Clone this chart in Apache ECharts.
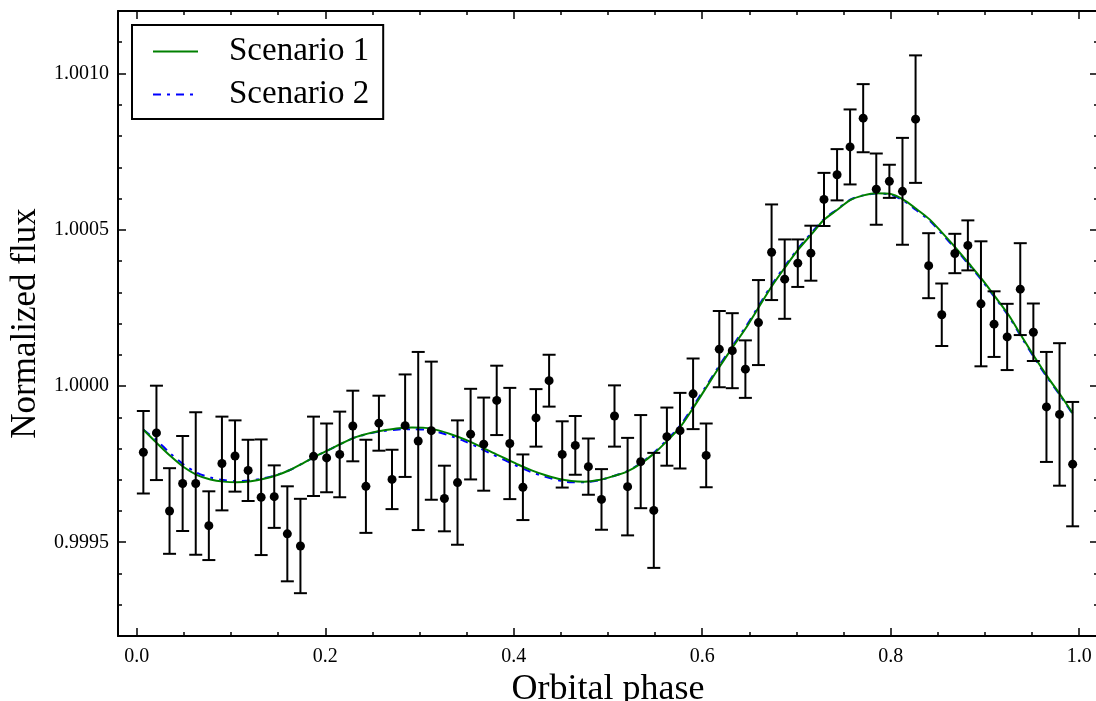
<!DOCTYPE html>
<html>
<head>
<meta charset="utf-8">
<title>Normalized flux vs orbital phase</title>
<script src="https://cdn.jsdelivr.net/npm/echarts@6/dist/echarts.min.js"></script>
<style>
  html, body { margin: 0; padding: 0; background: #fff; }
  #chart { width: 1096px; height: 701px; }
</style>
</head>
<body>
<div id="chart"></div>
<script>
// binned observations
var phase = [0.0069, 0.0208, 0.0347, 0.0486, 0.0625, 0.0764, 0.0903, 0.1042, 0.1181, 0.1319,
  0.1458, 0.1597, 0.1736, 0.1875, 0.2014, 0.2153, 0.2292, 0.2431, 0.2569, 0.2708,
  0.2847, 0.2986, 0.3125, 0.3264, 0.3403, 0.3542, 0.3681, 0.3819, 0.3958, 0.4097,
  0.4236, 0.4375, 0.4514, 0.4653, 0.4792, 0.4931, 0.5069, 0.5208, 0.5347, 0.5486,
  0.5625, 0.5764, 0.5903, 0.6042, 0.6181, 0.6319, 0.6458, 0.6597, 0.6736, 0.6875,
  0.7014, 0.7153, 0.7292, 0.7431, 0.7569, 0.7708, 0.7847, 0.7986, 0.8125, 0.8264,
  0.8403, 0.8542, 0.8681, 0.8819, 0.8958, 0.9097, 0.9236, 0.9375, 0.9514, 0.9653,
  0.9792, 0.9931];
var flux = [0.999788, 0.999850, 0.999600, 0.999688, 0.999688, 0.999553, 0.999752, 0.999776, 0.999730, 0.999644,
  0.999646, 0.999527, 0.999488, 0.999775, 0.999770, 0.999781, 0.999872, 0.999679, 0.999881, 0.999701,
  0.999873, 0.999824, 0.999857, 0.999640, 0.999691, 0.999846, 0.999814, 0.999954, 0.999816, 0.999676,
  0.999898, 1.000017, 0.999781, 0.999810, 0.999742, 0.999637, 0.999904, 0.999678, 0.999758, 0.999602,
  0.999838, 0.999857, 0.999975, 0.999778, 1.000118, 1.000113, 1.000054, 1.000203, 1.000428, 1.000342,
  1.000393, 1.000425, 1.000597, 1.000676, 1.000765, 1.000857, 1.000630, 1.000655, 1.000623, 1.000854,
  1.000385, 1.000228, 1.000424, 1.000450, 1.000263, 1.000198, 1.000157, 1.000310, 1.000172, 0.999933,
  0.999909, 0.999750];
var fluxErr = [0.000132, 0.000151, 0.000137, 0.000152, 0.000228, 0.000110, 0.000150, 0.000114, 0.000098, 0.000185,
  0.000100, 0.000152, 0.000151, 0.000127, 0.000110, 0.000137, 0.000113, 0.000149, 0.000088, 0.000095,
  0.000164, 0.000285, 0.000221, 0.000105, 0.000199, 0.000145, 0.000149, 0.000111, 0.000178, 0.000105,
  0.000092, 0.000083, 0.000106, 0.000094, 0.000090, 0.000097, 0.000098, 0.000156, 0.000149, 0.000184,
  0.000093, 0.000121, 0.000113, 0.000102, 0.000122, 0.000120, 0.000092, 0.000136, 0.000153, 0.000127,
  0.000076, 0.000088, 0.000085, 0.000082, 0.000120, 0.000109, 0.000114, 0.000053, 0.000171, 0.000204,
  0.000104, 0.000100, 0.000063, 0.000080, 0.000200, 0.000105, 0.000106, 0.000147, 0.000092, 0.000176,
  0.000228, 0.000199];

// model curves
var modelPhase = [0.007, 0.021, 0.036, 0.050, 0.064, 0.078, 0.092, 0.106, 0.121, 0.135,
  0.149, 0.163, 0.177, 0.191, 0.206, 0.220, 0.234, 0.250, 0.264, 0.278,
  0.292, 0.306, 0.320, 0.334, 0.348, 0.362, 0.376, 0.391, 0.405, 0.419,
  0.433, 0.447, 0.461, 0.475, 0.490, 0.504, 0.520, 0.534, 0.548, 0.562,
  0.577, 0.590, 0.604, 0.618, 0.632, 0.646, 0.660, 0.674, 0.688, 0.702,
  0.716, 0.729, 0.743, 0.757, 0.771, 0.785, 0.799, 0.813, 0.827, 0.841,
  0.855, 0.869, 0.883, 0.897, 0.911, 0.925, 0.939, 0.953, 0.967, 0.980,
  0.993];
var scenario1 = [0.999860, 0.999818, 0.999775, 0.999740, 0.999715, 0.999701, 0.999694, 0.999692, 0.999695, 0.999703,
  0.999715, 0.999732, 0.999754, 0.999777, 0.999799, 0.999820, 0.999838, 0.999851, 0.999859, 0.999865,
  0.999867, 0.999866, 0.999858, 0.999845, 0.999829, 0.999810, 0.999789, 0.999768, 0.999748, 0.999730,
  0.999715, 0.999703, 0.999696, 0.999694, 0.999699, 0.999710, 0.999726, 0.999750, 0.999782, 0.999822,
  0.999870, 0.999928, 0.999994, 1.000060, 1.000123, 1.000184, 1.000252, 1.000320, 1.000380, 1.000437,
  1.000486, 1.000531, 1.000563, 1.000595, 1.000610, 1.000617, 1.000615, 1.000597, 1.000567, 1.000534,
  1.000489, 1.000442, 1.000392, 1.000341, 1.000285, 1.000228, 1.000159, 1.000091, 1.000027, 0.999972,
  0.999913];
var scenario2 = [0.999860, 0.999826, 0.999783, 0.999748, 0.999722, 0.999707, 0.999699, 0.999696, 0.999698, 0.999705,
  0.999716, 0.999732, 0.999754, 0.999777, 0.999799, 0.999820, 0.999838, 0.999850, 0.999857, 0.999861,
  0.999862, 0.999860, 0.999852, 0.999839, 0.999823, 0.999804, 0.999783, 0.999762, 0.999742, 0.999724,
  0.999710, 0.999698, 0.999692, 0.999692, 0.999698, 0.999710, 0.999727, 0.999752, 0.999785, 0.999826,
  0.999875, 0.999934, 0.999999, 1.000065, 1.000128, 1.000189, 1.000257, 1.000325, 1.000385, 1.000441,
  1.000490, 1.000534, 1.000565, 1.000596, 1.000610, 1.000616, 1.000613, 1.000594, 1.000563, 1.000530,
  1.000485, 1.000438, 1.000388, 1.000337, 1.000281, 1.000224, 1.000155, 1.000087, 1.000023, 0.999969,
  0.999911];

// ticks
var xMajor = [0.0, 0.2, 0.4, 0.6, 0.8, 1.0];
var xMinor = [0.05, 0.1, 0.15, 0.25, 0.3, 0.35, 0.45, 0.5, 0.55, 0.65, 0.7, 0.75, 0.85, 0.9, 0.95];
var yMajor = [0.9995, 1.0000, 1.0005, 1.0010];
var yMinor = [0.9993, 0.9994, 0.9996, 0.9997, 0.9998, 0.9999, 1.0001, 1.0002, 1.0003, 1.0004,
  1.0006, 1.0007, 1.0008, 1.0009, 1.0011];

var FONT = "'Liberation Serif', 'DejaVu Serif', serif";
var X_MIN = -0.02, X_MAX = 1.02, Y_MIN = 0.9992, Y_MAX = 1.0012;

var chart = echarts.init(document.getElementById("chart"), null, { renderer: "canvas" });

function makeAxis(dim, position, ticks, len, labels) {
  var ax = {
    type: "value",
    position: position,
    min: dim === "x" ? X_MIN : Y_MIN,
    max: dim === "x" ? X_MAX : Y_MAX,
    splitLine: { show: false },
    axisLine: { show: len > 5, onZero: false, lineStyle: { color: "#000", width: 2 } },
    axisTick: { show: true, inside: true, length: len, customValues: ticks,
      lineStyle: { color: "#000", width: 1.5 } },
    axisLabel: { show: false }
  };
  if (labels) {
    ax.axisLabel = {
      show: true, customValues: ticks, color: "#000", fontFamily: FONT, fontSize: 20,
      margin: dim === "x" ? 11 : 9,
      formatter: function (v) { return dim === "x" ? v.toFixed(1) : v.toFixed(4); }
    };
  }
  return ax;
}

var xAxes = [
  makeAxis("x", "bottom", xMajor, 8, true),
  makeAxis("x", "bottom", xMinor, 4, false),
  makeAxis("x", "top", xMajor, 8, false),
  makeAxis("x", "top", xMinor, 4, false)
];
xAxes[0].name = "Orbital phase";
xAxes[0].nameLocation = "middle";
xAxes[0].nameGap = 36;
xAxes[0].nameTextStyle = { color: "#000", fontFamily: FONT, fontSize: 36 };

var yAxes = [
  makeAxis("y", "left", yMajor, 8, true),
  makeAxis("y", "left", yMinor, 4, false),
  makeAxis("y", "right", yMajor, 8, false),
  makeAxis("y", "right", yMinor, 4, false)
];
yAxes[0].name = "Normalized flux";
yAxes[0].nameLocation = "middle";
yAxes[0].nameGap = 74;
yAxes[0].nameTextStyle = { color: "#000", fontFamily: FONT, fontSize: 35 };

var obs = phase.map(function (p, i) { return [p, flux[i], fluxErr[i]]; });

var option = {
  animation: false,
  backgroundColor: "#fff",
  grid: { left: 118, top: 11, width: 980, height: 625, containLabel: false, outerBoundsMode: "none" },
  legend: {
    data: ["Scenario 1", "Scenario 2"],
    orient: "vertical",
    left: 132, top: 25,
    padding: [10, 14, 8, 20],
    itemWidth: 45, itemHeight: 14, itemGap: 10,
    backgroundColor: "#fff",
    borderColor: "#000", borderWidth: 2, borderRadius: 0,
    itemStyle: { opacity: 0 },
    textStyle: { color: "#000", fontFamily: FONT, fontSize: 33, lineHeight: 30, padding: [0, 0, 0, 26] }
  },
  xAxis: xAxes,
  yAxis: yAxes,
  series: [
    {
      name: "Scenario 1", type: "line", z: 3,
      data: modelPhase.map(function (p, i) { return [p, scenario1[i]]; }),
      symbol: "none", smooth: 0.3,
      lineStyle: { color: "#008000", width: 2 },
      itemStyle: { color: "#008000" }
    },
    {
      name: "Scenario 2", type: "line", z: 2,
      data: modelPhase.map(function (p, i) { return [p, scenario2[i]]; }),
      symbol: "none", smooth: 0.3,
      lineStyle: { color: "#0000ff", width: 2, type: [8, 6, 3, 6] },
      itemStyle: { color: "#0000ff" }
    },
    {
      name: "errors", type: "custom", z: 4,
      data: obs,
      encode: { x: 0, y: 1 },
      renderItem: function (params, api) {
        var x = api.value(0), y = api.value(1), e = api.value(2);
        var lo = api.coord([x, y - e]);
        var hi = api.coord([x, y + e]);
        var w = 6.5;
        var st = { stroke: "#000", lineWidth: 2 };
        return {
          type: "group",
          children: [
            { type: "line", shape: { x1: lo[0], y1: lo[1], x2: hi[0], y2: hi[1] }, style: st },
            { type: "line", shape: { x1: lo[0] - w, y1: lo[1], x2: lo[0] + w, y2: lo[1] }, style: st },
            { type: "line", shape: { x1: hi[0] - w, y1: hi[1], x2: hi[0] + w, y2: hi[1] }, style: st }
          ]
        };
      }
    },
    {
      name: "data", type: "scatter", z: 5,
      data: obs.map(function (d) { return [d[0], d[1]]; }),
      symbol: "circle", symbolSize: 9,
      itemStyle: { color: "#000", opacity: 1 }
    }
  ]
};

chart.setOption(option);
</script>
</body>
</html>
